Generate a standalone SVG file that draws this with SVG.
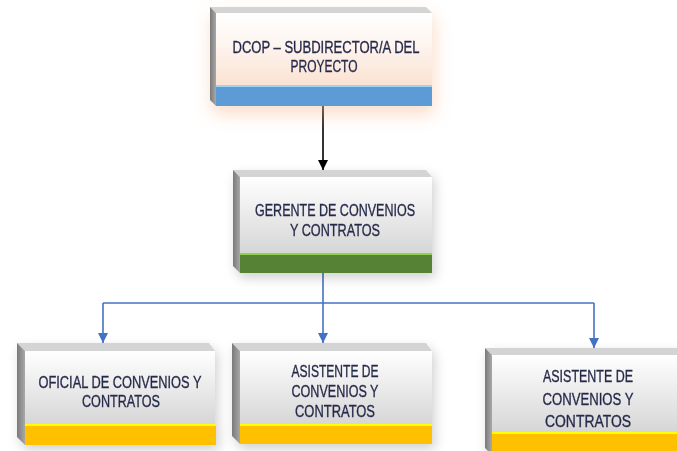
<svg xmlns="http://www.w3.org/2000/svg" width="677" height="451" viewBox="0 0 677 451">
<style>
.lbl{font-family:"Liberation Sans",Arial,sans-serif;font-size:16px;fill:#1c2848;stroke:#3a3050;stroke-width:0.35;text-anchor:middle}
.top{fill:#d4d4d4}
.side{fill:url(#sideG)}
.face{fill:url(#faceG)}
.blue{stroke:#4472c4;stroke-width:1.6;fill:none}
</style>
<defs>
<linearGradient id="faceG" x1="0" y1="0" x2="0" y2="1">
<stop offset="0" stop-color="#ffffff"/><stop offset="1" stop-color="#d6d6d6"/>
</linearGradient>
<linearGradient id="faceP" x1="0" y1="0" x2="0" y2="1">
<stop offset="0" stop-color="#ffffff"/><stop offset="0.4" stop-color="#fdf6f1"/><stop offset="1" stop-color="#fbe2d2"/>
</linearGradient>
<linearGradient id="sideG" x1="0" y1="0" x2="1" y2="0">
<stop offset="0" stop-color="#7a7a7a"/><stop offset="1" stop-color="#a8a8a8"/>
</linearGradient>
<filter id="sh" x="-20%" y="-30%" width="140%" height="160%">
<feGaussianBlur in="SourceAlpha" stdDeviation="6"/>
<feOffset dx="3" dy="5" result="b"/>
<feFlood flood-color="#000" flood-opacity="0.18"/>
<feComposite in2="b" operator="in"/>
<feMerge><feMergeNode/><feMergeNode in="SourceGraphic"/></feMerge>
</filter>
<filter id="glow" x="-30%" y="-40%" width="160%" height="180%">
<feGaussianBlur in="SourceAlpha" stdDeviation="9"/>
<feOffset dx="2" dy="8" result="b"/>
<feFlood flood-color="#f4b183" flood-opacity="0.45"/>
<feComposite in2="b" operator="in"/>
<feMerge><feMergeNode/><feMergeNode in="SourceGraphic"/></feMerge>
</filter>
<marker id="arrK" markerUnits="userSpaceOnUse" markerWidth="12" markerHeight="12" refX="6" refY="10" orient="0" viewBox="0 0 12 12">
<path d="M1,0 L11,0 L6,10 Z" fill="#000"/>
</marker>
<marker id="arrB" markerUnits="userSpaceOnUse" markerWidth="12" markerHeight="12" refX="6" refY="10" orient="0" viewBox="0 0 12 12">
<path d="M1,0 L11,0 L6,10 Z" fill="#4472c4"/>
</marker>
</defs>
<rect width="677" height="451" fill="#ffffff"/>

<g id="connectors">
<line x1="323" y1="106" x2="323" y2="170" stroke="#000" stroke-width="1.6" marker-end="url(#arrK)"/>
<polyline class="blue" points="323,273 323,303"/>
<polyline class="blue" points="103,303 594,303"/>
<line class="blue" x1="103" y1="303" x2="103" y2="343" marker-end="url(#arrB)"/>
<line class="blue" x1="323" y1="303" x2="323" y2="343" marker-end="url(#arrB)"/>
<line class="blue" x1="594" y1="303" x2="594" y2="348" marker-end="url(#arrB)"/>
</g>

<g id="dcop" filter="url(#glow)">
<polygon class="top" points="210,7 426,7 432,13 216,13"/>
<polygon class="side" points="210,7 216,13 216,106 210,100"/>
<rect x="216" y="13" width="216" height="72" fill="url(#faceP)"/>
<rect x="216" y="85" width="216" height="21" fill="#5b9bd5"/>
<rect x="216" y="85" width="216" height="2" fill="#9fd3f2"/>
<text class="lbl" x="326" y="53" textLength="187" lengthAdjust="spacingAndGlyphs">DCOP – SUBDIRECTOR/A DEL</text>
<text class="lbl" x="324" y="72" textLength="67" lengthAdjust="spacingAndGlyphs">PROYECTO</text>
</g>

<g id="gerente" filter="url(#sh)">
<polygon class="top" points="233,170 426,170 432,177 240,177"/>
<polygon class="side" points="233,170 240,177 240,273 233,266"/>
<rect x="240" y="177" width="192" height="76" class="face"/>
<rect x="240" y="253" width="192" height="20" fill="#548235"/>
<rect x="240" y="253" width="192" height="2" fill="#92d050"/>
<text class="lbl" x="335" y="216" textLength="160" lengthAdjust="spacingAndGlyphs">GERENTE DE CONVENIOS</text>
<text class="lbl" x="335" y="236" textLength="90" lengthAdjust="spacingAndGlyphs">Y CONTRATOS</text>
</g>

<g id="oficial" filter="url(#sh)">
<polygon class="top" points="17,343 209,343 215,351 25,351"/>
<polygon class="side" points="17,343 25,351 25,445 17,437"/>
<rect x="25" y="351" width="190" height="73" class="face"/>
<rect x="25" y="424" width="191" height="21" fill="#ffc000"/>
<rect x="25" y="424" width="191" height="2" fill="#ffff00"/>
<text class="lbl" x="120" y="388" textLength="163" lengthAdjust="spacingAndGlyphs">OFICIAL DE CONVENIOS Y</text>
<text class="lbl" x="121" y="407" textLength="78" lengthAdjust="spacingAndGlyphs">CONTRATOS</text>
</g>

<g id="asistente1" filter="url(#sh)">
<polygon class="top" points="232,343 426,343 432,351 240,351"/>
<polygon class="side" points="232,343 240,351 240,444 232,436"/>
<rect x="240" y="351" width="192" height="73" class="face"/>
<rect x="240" y="424" width="192" height="20" fill="#ffc000"/>
<rect x="240" y="424" width="192" height="2" fill="#ffff00"/>
<text class="lbl" x="335" y="377" textLength="87" lengthAdjust="spacingAndGlyphs">ASISTENTE DE</text>
<text class="lbl" x="335" y="397" textLength="87" lengthAdjust="spacingAndGlyphs">CONVENIOS Y</text>
<text class="lbl" x="335" y="417" textLength="80" lengthAdjust="spacingAndGlyphs">CONTRATOS</text>
</g>

<g id="asistente2" filter="url(#sh)">
<polygon class="top" points="485,348 684,348 690,355 492,355"/>
<polygon class="side" points="485,348 492,355 492,455 485,448"/>
<rect x="492" y="355" width="198" height="77" class="face"/>
<rect x="492" y="432" width="198" height="23" fill="#ffc000"/>
<rect x="492" y="432" width="198" height="2" fill="#ffff00"/>
<text class="lbl" x="588" y="382" textLength="90" lengthAdjust="spacingAndGlyphs">ASISTENTE DE</text>
<text class="lbl" x="588" y="405" textLength="91" lengthAdjust="spacingAndGlyphs">CONVENIOS Y</text>
<text class="lbl" x="588" y="427" textLength="86" lengthAdjust="spacingAndGlyphs">CONTRATOS</text>
</g>
</svg>
